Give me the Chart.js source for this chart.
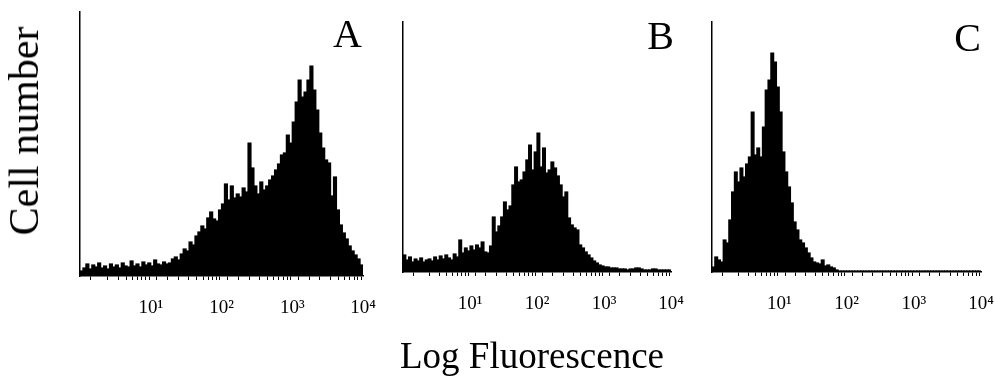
<!DOCTYPE html>
<html>
<head>
<meta charset="utf-8">
<script src="https://cdn.jsdelivr.net/npm/chart.js@4.4.0/dist/chart.umd.min.js"></script>
<style>
	body { margin: 0; background: #fff; }
	#pagina { position: relative; width: 995px; height: 384px; overflow: hidden; color: #000;
		font-family: "Liberation Serif", "Times New Roman", serif; }
	canvas { position: absolute; top: 0; }
	.rotulo { position: absolute; white-space: nowrap; line-height: 1; }
	.letra { font-size: 40px; }
</style>
</head>
<body>
<div id="pagina">
	<canvas id="graficoA" width="388" height="330" style="left:0px"></canvas>
	<canvas id="graficoB" width="311" height="330" style="left:385px"></canvas>
	<canvas id="graficoC" width="311" height="330" style="left:695px"></canvas>

	<div class="rotulo" style="left:24px; top:131px; font-size:42px; transform:translate(-50%,-50%) rotate(-90deg)">Cell number</div>
	<div class="rotulo" style="left:532px; top:337px; font-size:37px; transform:translateX(-50%)">Log Fluorescence</div>
	<div class="rotulo letra" style="right:633px; top:14px">A</div>
	<div class="rotulo letra" style="right:321px; top:16px">B</div>
	<div class="rotulo letra" style="right:14px; top:18px">C</div>
</div>

<script>
// contagem de celulas por canal (24 canais por decada, 10^0 a 10^4)
var contagemA = [5, 8, 12, 7, 11, 9, 13, 8, 10, 7, 12, 9, 11, 8, 13, 10,
	9, 15, 10, 12, 9, 14, 11, 13, 10, 16, 12, 11, 14, 12, 13, 17,
	19, 16, 22, 27, 25, 34, 31, 40, 44, 50, 47, 58, 64, 57, 55, 66,
	72, 92, 76, 90, 78, 82, 79, 88, 84, 133, 108, 90, 82, 94, 86, 90,
	96, 100, 106, 112, 121, 123, 141, 133, 154, 174, 196, 179, 184, 196, 210, 186,
	166, 143, 128, 116, 113, 80, 99, 66, 51, 43, 37, 30, 25, 21, 17, 11];

var contagemB = [17, 12, 15, 10, 13, 11, 14, 10, 12, 13, 11, 15, 12, 16, 13, 17,
	14, 12, 18, 15, 32, 19, 24, 21, 26, 22, 27, 24, 30, 20, 19, 26,
	55, 40, 46, 55, 70, 62, 66, 87, 105, 90, 92, 100, 112, 127, 102, 120,
	139, 105, 124, 99, 102, 110, 104, 96, 87, 75, 80, 54, 47, 44, 42, 27,
	24, 20, 17, 14, 11, 9, 7, 6, 5, 5, 4, 4, 4, 3, 3, 3,
	2, 3, 3, 4, 4, 3, 2, 2, 2, 3, 3, 2, 2, 2, 2, 2];

var contagemC = [5, 15, 12, 10, 32, 29, 52, 80, 100, 90, 104, 95, 108, 115, 160, 117,
	124, 115, 145, 182, 192, 219, 210, 185, 160, 120, 100, 85, 69, 50, 42, 32,
	29, 24, 19, 14, 10, 9, 8, 12, 6, 7, 5, 4, 2, 1, 1, 1,
	1, 1, 1, 1, 1, 1, 1, 1, 1, 1, 1, 1, 1, 1, 1, 1,
	1, 1, 1, 1, 1, 1, 1, 1, 1, 1, 1, 1, 1, 1, 1, 1,
	1, 1, 1, 1, 1, 1, 1, 1, 1, 1, 1, 1, 1, 1, 1, 1];

var potencias = [10, 100, 1000, 10000];
var rotulosEixo = ['10\u00b9', '10\u00b2', '10\u00b3', '10\u2074'];

function rotuloDecada(valor) {
	for (var i = 0; i < potencias.length; i++) {
		if (Math.abs(valor - potencias[i]) < 1e-6 * potencias[i]) {
			return rotulosEixo[i];
		}
	}
	return '';
}

function criarHistograma(idCanvas, valores, alturaMax, espaco) {
	var ctx = document.getElementById(idCanvas).getContext('2d');

	var data = {
		labels : valores.map(function(v, i){ return i + 1; }),
		datasets : [{
			data : valores,
			backgroundColor : '#000',
			borderWidth : 0,
			inflateAmount : 0.6,
			barPercentage : 1,
			categoryPercentage : 1,
			xAxisID : 'x',
			yAxisID : 'y'
		}]
	};

	return new Chart(ctx, {
		type: 'bar',
		data: data,
		options: {
			responsive: false,
			animation: false,
			devicePixelRatio: 1,
			layout: { padding: espaco },
			plugins: { legend: { display: false }, tooltip: { enabled: false } },
			scales: {
				x: { type: 'category', display: false, offset: true },
				escalaLog: {
					type: 'logarithmic',
					position: 'bottom',
					min: 1,
					max: 10000,
					afterFit: function(escala){
						// altura fixa e sem recuo extra pelo rotulo 10^4
						escala.height = 40;
						escala.paddingLeft = 0;
						escala.paddingRight = 0;
					},
					border: { display: true, color: '#000', width: 1.5 },
					grid: { display: true, drawOnChartArea: false, drawTicks: true, tickLength: 4, color: '#000', lineWidth: 1 },
					ticks: {
						autoSkip: false,
						maxRotation: 0,
						padding: 17,
						color: '#000',
						font: { family: 'Liberation Serif', size: 19 },
						callback: rotuloDecada
					}
				},
				y: {
					type: 'linear',
					min: 0,
					max: alturaMax,
					border: { display: true, color: '#000', width: 1.5 },
					grid: { display: false, drawTicks: false },
					ticks: { display: false }
				}
			}
		}
	});
}

criarHistograma('graficoA', contagemA, 264, { left: 80, right: 25, top: 12, bottom: 14 });
criarHistograma('graficoB', contagemB, 250, { left: 18, right: 25, top: 22, bottom: 18 });
criarHistograma('graficoC', contagemC, 250, { left: 17, right: 25, top: 22, bottom: 18 });
</script>
</body>
</html>
